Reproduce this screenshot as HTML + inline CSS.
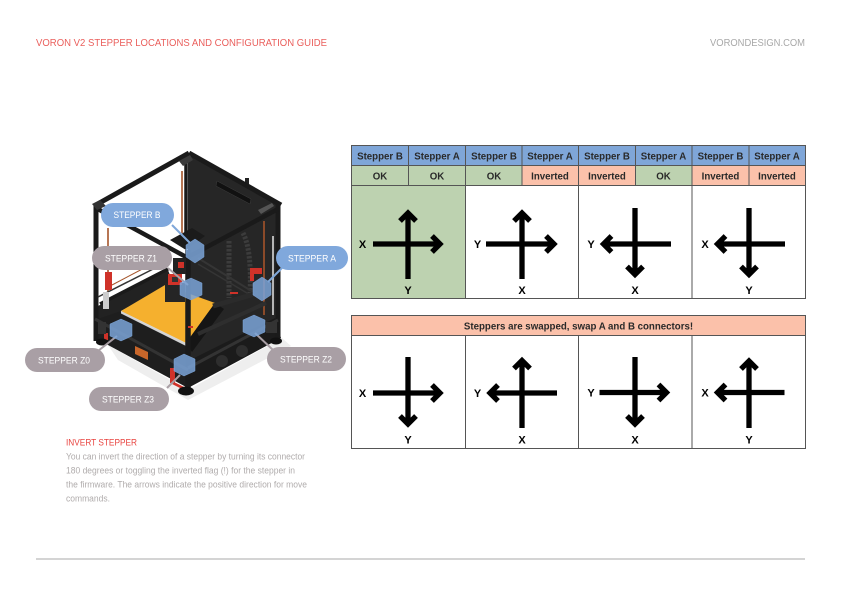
<!DOCTYPE html>
<html><head><meta charset="utf-8"><style>
html,body{margin:0;padding:0;background:#fff}svg{display:block}
text{font-family:"Liberation Sans",sans-serif}
.h{font-size:9.7px;font-weight:bold;fill:#2a2a2a;text-anchor:middle}
.l{font-size:11px;font-weight:bold;fill:#000;text-anchor:middle}
.p{font-size:9px;fill:#fff;text-anchor:middle}
.t{font-size:8.8px;fill:#b0acac}
.a{fill:none;stroke:#000;stroke-width:5.300;stroke-miterlimit:10}
.g{stroke:#555;stroke-width:1;fill:none}
</style></head><body>
<svg width="842" height="595" viewBox="0 0 842 595" xmlns="http://www.w3.org/2000/svg">
<rect width="842" height="595" fill="#fff"/>
<text x="36" y="46" font-size="10" fill="#ea5f5c" textLength="291" lengthAdjust="spacingAndGlyphs">VORON V2 STEPPER LOCATIONS AND CONFIGURATION GUIDE</text>
<text x="710" y="46" font-size="10" fill="#a8a8a8" textLength="95" lengthAdjust="spacingAndGlyphs">VORONDESIGN.COM</text>
<rect x="36" y="558.500" width="769" height="1" fill="#a9a9a9"/>

<!-- printer -->
<polygon points="108,345 188,390 282,338 291,346 188,400 118,360" fill="#eeeeee"/>
<polygon points="188,153 279,205 279,325 188,372" fill="#262626"/>
<polygon points="98,306 168,270 173,283 121,311 98,324" fill="#222"/>
<polygon points="95,320 121,311 186,345 188,388 95,338" fill="#1e1e1e"/>
<polygon points="188,361 275,318 281,338 188,388" fill="#1b1b1b"/>
<polygon points="121,311 165,285 215,303 186,343" fill="#f5b02e"/>
<polygon points="121,311 186,343 186,346 121,313.500" fill="#d4d4d4"/>
<polygon points="186,343 215,303 224,309 192,352" fill="#151515"/>
<polygon points="135,346 148,352 148,360 135,354" fill="#c8662a"/>

<g fill="none" stroke="#a5542a" stroke-width="1.6">
<path d="M182 171V233"/><path d="M264 221V315"/><path d="M108 228V301"/>
<path d="M112 285L150 265" stroke-width="1"/>
</g>
<rect x="272" y="236" width="2" height="79" fill="#b5b5b5"/>

<!-- chains and gantry on back panel -->
<g fill="none" stroke="#3c3c3c" stroke-dasharray="2.500 1.500">
<path d="M229 241V298" stroke-width="5"/>
<path d="M243 233Q252 250 250 295" stroke-width="5"/>
</g>
<g fill="none" stroke="#353535">
<path d="M198 258L258 295" stroke-width="2"/>
<path d="M198 264L252 296" stroke-width="1.500"/>
<path d="M213 306L258 293" stroke-width="5" stroke="#2b2b2b"/>
<path d="M198 334L266 303" stroke-width="4" stroke="#2e2e2e"/>
</g>
<polygon points="217,181 251,199 250,204 216,186" fill="#111" stroke="#3c3c3c" stroke-width=".5"/>
<rect x="245" y="178" width="4" height="6" fill="#222"/>
<polygon points="170,240 192,228 205,236 186,250" fill="#1b1b1b"/>

<!-- frame -->
<g fill="none" stroke="#1a1a1a">
<path d="M94 206L189 153" stroke-width="5"/>
<path d="M189 153L281 205" stroke-width="5"/>
<path d="M96 206V341" stroke-width="5"/>
<path d="M278 205V338" stroke-width="5"/>
<path d="M186 153V235" stroke-width="3.500"/>
<path d="M96 208L188 258" stroke-width="4.500"/>
<path d="M278 209L190 256" stroke-width="4.500"/>
<path d="M100 304L168 269" stroke-width="3.500"/>
<path d="M98 297L165 263" stroke-width="1.500" stroke="#333"/>
<path d="M188 250V388" stroke-width="5.500"/>
<path d="M95 319L188 370" stroke-width="3" stroke="#333"/>
<path d="M188 368L278 320" stroke-width="3" stroke="#333"/>
</g>
<polygon points="92,204 100,200 106,206 97,210" fill="#333"/>
<polygon points="258,210 272,203 274,206 261,214" fill="#555"/>
<polygon points="179,161 190,155 193,160 183,166" fill="#3a3a3a"/>

<!-- carriage -->
<rect x="165" y="283" width="20" height="19" fill="#252525"/>
<rect x="168" y="274" width="14" height="11" fill="#cf3229"/>
<rect x="172" y="277" width="6" height="5" fill="#333"/>
<rect x="173" y="258" width="13" height="16" fill="#222"/>
<rect x="178" y="262" width="6" height="6" fill="#cf3229"/>
<g fill="#cf3229">
<rect x="105" y="272" width="7" height="18"/>
<rect x="250" y="268" width="12" height="6"/><rect x="250" y="272" width="4" height="9"/>
<rect x="104" y="333" width="4" height="7"/>
<rect x="170" y="368" width="5" height="15"/>
<polygon points="172,381 184,387 184,390 172,384"/>
<rect x="230" y="292" width="8" height="2"/>
<rect x="188" y="326" width="5" height="2"/>
</g>
<rect x="103" y="292" width="6" height="17" fill="#ccc"/>

<!-- feet and fans -->
<ellipse cx="102" cy="342" rx="6" ry="3.500" fill="#111"/>
<ellipse cx="186" cy="391" rx="8" ry="4.500" fill="#111"/>
<ellipse cx="276" cy="341" rx="6" ry="3.500" fill="#111"/>
<circle cx="222" cy="361" r="6" fill="#2e2e2e"/><circle cx="242" cy="351" r="6" fill="#2e2e2e"/>
<rect x="266" y="322" width="11" height="11" fill="#333"/>
<rect x="98" y="322" width="8" height="12" fill="#333"/>

<!-- connectors -->
<g stroke-width="2" fill="none">
<path d="M172 225L190 243" stroke="#7fa7d9"/><path d="M282 268L268 282" stroke="#7fa7d9"/>
<path d="M168 268L188 285" stroke="#a99fa5"/><path d="M98 351L117 336" stroke="#a99fa5"/>
<path d="M167 388L180 375" stroke="#a99fa5"/><path d="M273 350L255 333" stroke="#a99fa5"/>
</g>
<!-- hexagons -->
<g fill="#7ba4d8" fill-opacity=".85" stroke="#7ba4d8" stroke-width=".5">
<polygon points="195,239 204,245 204,257 195,263 186,257 186,245"/>
<polygon points="191,278 202,283 202,295 191,300 180,295 180,283"/>
<polygon points="262,277 271,283 271,295 262,301 253,295 253,283"/>
<polygon points="254,315 265,320 265,332 254,337 243,332 243,320"/>
<polygon points="184,354 195,359 195,371 184,376 174,371 174,359"/>
<polygon points="121,319 132,324 132,336 121,341 110,336 110,324"/>
</g>
<!-- pills -->
<rect x="101" y="203" width="73" height="24" rx="12" fill="#80a8dc"/>
<rect x="276" y="246" width="72" height="24" rx="12" fill="#80a8dc"/>
<rect x="92" y="246" width="80" height="24" rx="12" fill="#a99fa5"/>
<rect x="25" y="348" width="80" height="24" rx="12" fill="#a99fa5"/>
<rect x="89" y="387" width="80" height="24" rx="12" fill="#a99fa5"/>
<rect x="267" y="347" width="79" height="24" rx="12" fill="#a99fa5"/>
<text class="p" x="137" y="218" textLength="47" lengthAdjust="spacingAndGlyphs">STEPPER B</text>
<text class="p" x="312" y="261.500" textLength="48" lengthAdjust="spacingAndGlyphs">STEPPER A</text>
<text class="p" x="131" y="261.500" textLength="52" lengthAdjust="spacingAndGlyphs">STEPPER Z1</text>
<text class="p" x="64" y="363.500" textLength="52" lengthAdjust="spacingAndGlyphs">STEPPER Z0</text>
<text class="p" x="128" y="402.500" textLength="52" lengthAdjust="spacingAndGlyphs">STEPPER Z3</text>
<text class="p" x="306" y="362.500" textLength="52" lengthAdjust="spacingAndGlyphs">STEPPER Z2</text>

<!-- body text -->
<text x="66" y="445.500" font-size="8.8" fill="#e8433f" textLength="71" lengthAdjust="spacingAndGlyphs">INVERT STEPPER</text>
<text class="t" x="66" y="459.500" textLength="239" lengthAdjust="spacingAndGlyphs">You can invert the direction of a stepper by turning its connector</text>
<text class="t" x="66" y="473.500" textLength="229" lengthAdjust="spacingAndGlyphs">180 degrees or toggling the inverted flag (!) for the stepper in</text>
<text class="t" x="66" y="487.500" textLength="241" lengthAdjust="spacingAndGlyphs">the firmware. The arrows indicate the positive direction for move</text>
<text class="t" x="66" y="501.500" textLength="44" lengthAdjust="spacingAndGlyphs">commands.</text>

<!-- table 1 -->
<rect x="351.500" y="145.500" width="454" height="20" fill="#7fa6d8"/>
<rect x="351.500" y="165.500" width="171" height="20" fill="#bdd2b0"/>
<rect x="522.500" y="165.500" width="56" height="20" fill="#fbc1aa"/>
<rect x="578.500" y="165.500" width="57" height="20" fill="#fbc1aa"/>
<rect x="635.500" y="165.500" width="57" height="20" fill="#bdd2b0"/>
<rect x="692.500" y="165.500" width="113" height="20" fill="#fbc1aa"/>
<rect x="351.500" y="185.500" width="114" height="113" fill="#bdd2b0"/>
<path class="g" d="M351.500 145.500H805.500V298.500H351.500ZM351.500 165.500H805.500M351.500 185.500H805.500M408.500 145.500V185.500M465.500 145.500V298.500M522 145.500V185.500M578.500 145.500V298.500M635.500 145.500V185.500M692 145.500V298.500M749 145.500V185.500"/>
<text class="h" x="380" y="159.500">Stepper B</text><text class="h" x="437" y="159.500">Stepper A</text>
<text class="h" x="494" y="159.500">Stepper B</text><text class="h" x="550" y="159.500">Stepper A</text>
<text class="h" x="607" y="159.500">Stepper B</text><text class="h" x="663.500" y="159.500">Stepper A</text>
<text class="h" x="720.500" y="159.500">Stepper B</text><text class="h" x="777" y="159.500">Stepper A</text>
<text class="h" x="380" y="179.500">OK</text><text class="h" x="437" y="179.500">OK</text>
<text class="h" x="494" y="179.500">OK</text><text class="h" x="550" y="179.500">Inverted</text>
<text class="h" x="607" y="179.500">Inverted</text><text class="h" x="663.500" y="179.500">OK</text>
<text class="h" x="720.500" y="179.500">Inverted</text><text class="h" x="777" y="179.500">Inverted</text>

<!-- arrows top -->
<path class="a" d="M373 244H439M432 236L440 244L432 252M408 279V214M400 221L408 213L416 221"/>
<path class="a" d="M486 244H552M546 236L554 244L546 252M522 279V214M514 221L522 213L530 221"/>
<path class="a" d="M671 244H605M611.500 236L603.500 244L611.500 252M635 208V273M627 266.500L635 274.500L643 266.500"/>
<path class="a" d="M785 244H719M725.500 236L717.500 244L725.500 252M749 208V273M741 266.500L749 274.500L757 266.500"/>
<text class="l" x="362.500" y="248">X</text><text class="l" x="408" y="294">Y</text>
<text class="l" x="477.500" y="248">Y</text><text class="l" x="522" y="294">X</text>
<text class="l" x="591" y="248">Y</text><text class="l" x="635" y="294">X</text>
<text class="l" x="705" y="248">X</text><text class="l" x="749" y="294">Y</text>

<!-- table 2 -->
<rect x="351.500" y="315.500" width="454" height="20" fill="#fbc1aa"/>
<path class="g" d="M351.500 315.500H805.500V448.500H351.500ZM351.500 335.500H805.500M465.500 335.500V448.500M578.500 335.500V448.500M692 335.500V448.500"/>
<text class="h" x="578.500" y="329.500">Steppers are swapped, swap A and B connectors!</text>
<path class="a" d="M373 393H439M432 385L440 393L432 401M408 357V423M400 416L408 424L416 416"/>
<path class="a" d="M557 393H491M498 385L490 393L498 401M522 428V361M514 368.500L522 360.500L530 368.500"/>
<path class="a" d="M599.500 392.500H665M658.500 384.500L666.500 392.500L658.500 400.500M635 357V423M627 416L635 424L643 416"/>
<path class="a" d="M784.500 392.500H719M725.500 384.500L717.500 392.500L725.500 400.500M749 428V362M741 369L749 361L757 369"/>
<text class="l" x="362.500" y="397">X</text><text class="l" x="408" y="443.500">Y</text>
<text class="l" x="477.500" y="397">Y</text><text class="l" x="522" y="443.500">X</text>
<text class="l" x="591" y="396.500">Y</text><text class="l" x="635" y="443.500">X</text>
<text class="l" x="705" y="396.500">X</text><text class="l" x="749" y="443.500">Y</text>
</svg>
</body></html>
